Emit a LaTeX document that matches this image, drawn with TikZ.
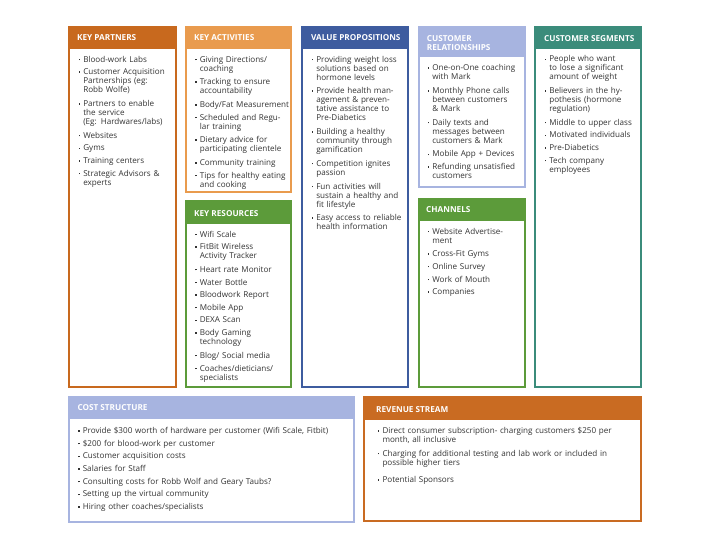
\documentclass[tikz,border=0pt]{standalone}
\usepackage{fontspec}
\setmainfont{Open Sans}
\definecolor{kpc}{HTML}{C8691E}
\definecolor{kac}{HTML}{E99B4E}
\definecolor{vpc}{HTML}{3E5C9F}
\definecolor{crc}{HTML}{A7B4E0}
\definecolor{csc}{HTML}{3B8C7B}
\definecolor{grc}{HTML}{5C9B3A}
\definecolor{rvc}{HTML}{C96B22}
\definecolor{txt}{HTML}{333333}
\newcommand\itm[1]{\par\noindent\makebox[4.6pt][l]{\raisebox{1.9pt}{\rule{1.4pt}{1.4pt}}}\begin{tabular}[t]{@{}l@{}}#1\end{tabular}\par\vspace{3.6pt}}
\newcommand\cvbox[6]{%
  \fill[#6] (#1,#2) rectangle (#3,#4);
  \fill[white] (#1+2,#5) rectangle (#3-2,#4-2);}
\tikzset{
  hdr/.style={anchor=base west, inner sep=0pt, text=white, align=left,
    font=\bfseries\fontsize{8.2}{9}\selectfont},
  body/.style={anchor=north west, inner sep=0pt, text=txt, align=left,
    text width=#1, font=\fontsize{8.1}{9.05}\selectfont},
  body/.default=120pt
}
\begin{document}
\begin{tikzpicture}[x=1pt,y=-1pt]
\useasboundingbox (0,0) rectangle (720,540);
\fill[white] (0,0) rectangle (720,540);
% boxes
\cvbox{67.5}{26}{176.5}{387.5}{49.5}{kpc}
\cvbox{184.5}{26}{292}{193}{49.5}{kac}
\cvbox{184.5}{200}{292}{387.5}{224}{grc}
\cvbox{301}{26}{409}{387.5}{49.5}{vpc}
\cvbox{417.5}{26}{525.5}{188}{57}{crc}
\cvbox{417.5}{198}{525.5}{387.5}{221}{grc}
\cvbox{534}{26}{642}{387.5}{49.5}{csc}
\cvbox{67.5}{395.5}{355}{522.5}{418.5}{crc}
\cvbox{363}{395.5}{642}{521.5}{419.5}{rvc}
% headers
\node[hdr] (hkp) at (77,40.5) {KEY PARTNERS};
\node[hdr] (hka) at (194,40.5) {KEY ACTIVITIES};
\node[hdr] (hkr) at (194,216.2) {KEY RESOURCES};
\node[hdr] (hvp) at (311,40.5) {VALUE PROPOSITIONS};
\node[hdr] (hcr) at (426.7,50.1) {CUSTOMER\\RELATIONSHIPS};
\node[hdr] (hch) at (426,212.9) {CHANNELS};
\node[hdr] (hcs) at (544,41.1) {CUSTOMER SEGMENTS};
\node[hdr] (hco) at (77.3,410.5) {COST STRUCTURE};
\node[hdr] (hrv) at (376,412.2) {REVENUE STREAM};
% bodies
\node[body] (bkp) at (78.5,52.8) {%
\itm{Blood-work Labs}
\itm{Customer Acquisition\\Partnerships (eg:\\Robb Wolfe)}
\itm{Partners to enable\\the service\\(Eg: Hardwares/labs)}
\itm{Websites}
\itm{Gyms}
\itm{Training centers}
\itm{Strategic Advisors \&\\experts}};
\node[body] (bka) at (195,52.8) {%
\itm{Giving Directions/\\coaching}
\itm{Tracking to ensure\\accountability}
\itm{Body/Fat Measurement}
\itm{Scheduled and Regu-\\lar training}
\itm{Dietary advice for\\participating clientele}
\itm{Community training}
\itm{Tips for healthy eating\\and cooking}};
\node[body] (bkr) at (195,227.8) {%
\itm{Wifi Scale}
\itm{FitBit Wireless\\Activity Tracker}
\itm{Heart rate Monitor}
\itm{Water Bottle}
\itm{Bloodwork Report}
\itm{Mobile App}
\itm{DEXA Scan}
\itm{Body Gaming\\technology}
\itm{Blog/ Social media}
\itm{Coaches/dieticians/\\specialists}};
\node[body] (bvp) at (311.5,52.8) {%
\itm{Providing weight loss\\solutions based on\\hormone levels}
\itm{Provide health man-\\agement \& preven-\\tative assistance to\\Pre-Diabetics}
\itm{Building a healthy\\community through\\gamification}
\itm{Competition ignites\\passion}
\itm{Fun activities will\\sustain a healthy and\\fit lifestyle}
\itm{Easy access to reliable\\health information}};
\node[body] (bcr) at (427.5,61.5) {%
\itm{One-on-One coaching\\with Mark}
\itm{Monthly Phone calls\\between customers\\\& Mark}
\itm{Daily texts and\\messages between\\customers \& Mark}
\itm{Mobile App + Devices}
\itm{Refunding unsatisfied\\customers}};
\node[body] (bch) at (427.5,224.8) {%
\itm{Website Advertise-\\ment}
\itm{Cross-Fit Gyms}
\itm{Online Survey}
\itm{Work of Mouth}
\itm{Companies}};
\node[body] (bcs) at (544.5,52.6) {%
\itm{People who want\\to lose a significant\\amount of weight}
\itm{Believers in the hy-\\pothesis (hormone\\regulation)}
\itm{Middle to upper class}
\itm{Motivated individuals}
\itm{Pre-Diabetics}
\itm{Tech company\\employees}};
\node[body=270pt] (bco) at (78,424.4) {%
\itm{Provide \$300 worth of hardware per customer (Wifi Scale, Fitbit)}
\itm{\$200 for blood-work per customer}
\itm{Customer acquisition costs}
\itm{Salaries for Staff}
\itm{Consulting costs for Robb Wolf and Geary Taubs?}
\itm{Setting up the virtual community}
\itm{Hiring other coaches/specialists}};
\node[body=260pt] (brv) at (377.7,424.4) {%
\itm{Direct consumer subscription- charging customers \$250 per\\month, all inclusive}
\itm{Charging for additional testing and lab work or included in\\possible higher tiers}
\vspace{3.5pt}
\itm{Potential Sponsors}};
\end{tikzpicture}
\end{document}
